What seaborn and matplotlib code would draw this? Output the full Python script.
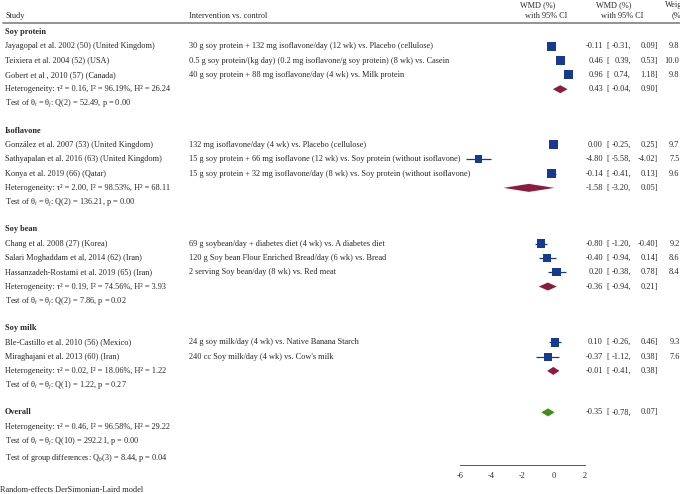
import matplotlib
matplotlib.use("Agg")
import matplotlib.pyplot as plt
import seaborn as sns
import pandas as pd

# ---- data ----
groups = ["Soy protein", "Isoflavone", "Soy bean", "Soy milk"]

studies = [
    ["Jayagopal et al. 2002 (50) (United Kingdom)",
     "Teixiera et al. 2004 (52) (USA)",
     "Gobert et al , 2010 (57) (Canada)"],
    ["González et al. 2007 (53) (United Kingdom)",
     "Sathyapalan et al. 2016 (63) (United Kingdom)",
     "Konya et al. 2019 (66) (Qatar)"],
    ["Chang et al. 2008 (27) (Korea)",
     "Salari Moghaddam et al, 2014 (62) (Iran)",
     "Hassanzadeh-Rostami et al. 2019 (65) (Iran)"],
    ["Ble-Castillo et al. 2010 (56) (Mexico)",
     "Miraghajani et al. 2013 (60) (Iran)"],
]

interventions = [
    ["30 g soy protein + 132 mg isoflavone/day (12 wk) vs. Placebo (cellulose)",
     "0.5 g soy protein/(kg day) (0.2 mg isoflavone/g soy protein) (8 wk) vs. Casein",
     "40 g soy protein + 88 mg isoflavone/day (4 wk) vs. Milk protein"],
    ["132 mg isoflavone/day (4 wk) vs. Placebo (cellulose)",
     "15 g soy protein + 66 mg isoflavone (12 wk) vs. Soy protein (without isoflavone)",
     "15 g soy protein + 32 mg isoflavone/day (8 wk) vs. Soy protein (without isoflavone)"],
    ["69 g soybean/day + diabetes diet (4 wk) vs. A diabetes diet",
     "120 g Soy bean Flour Enriched Bread/day (6 wk) vs. Bread",
     "2 serving Soy bean/day (8 wk) vs. Red meat"],
    ["24 g soy milk/day (4 wk) vs. Native Banana Starch",
     "240 cc Soy milk/day (4 wk) vs. Cow's milk"],
]

est = [[-0.11, 0.46, 0.96], [0.00, -4.80, -0.14], [-0.80, -0.40, 0.20], [0.10, -0.37]]
lo = [[-0.31, 0.39, 0.74], [-0.25, -5.58, -0.41], [-1.20, -0.94, -0.38], [-0.26, -1.12]]
hi = [[0.09, 0.53, 1.18], [0.25, -4.02, 0.13], [-0.40, 0.14, 0.78], [0.46, 0.38]]
weights = [[9.8, 10.0, 9.8], [9.7, 7.5, 9.6], [9.2, 8.6, 8.4], [9.3, 7.6]]

sub_est = [0.43, -1.58, -0.36, -0.01]
sub_lo = [-0.04, -3.20, -0.94, -0.41]
sub_hi = [0.90, 0.05, 0.21, 0.38]
sub_het = [(0.16, 96.19, 26.24), (2.00, 98.53, 68.11), (0.19, 74.56, 3.93), (0.02, 18.06, 1.22)]
sub_q = [(2, 52.49, 0.00), (2, 136.21, 0.00), (2, 7.86, 0.02), (1, 1.22, 0.27)]

overall = (-0.35, -0.78, 0.07)
overall_het = (0.46, 96.58, 29.22)
overall_q = (10, 292.21, 0.00)
group_diff = (3, 8.44, 0.04)

xticks = [-6, -4, -2, 0, 2]

# ---- style ----
sns.set_style("white")
plt.rcParams["font.family"] = ["Liberation Serif", "DejaVu Serif"]
plt.rcParams["mathtext.fontset"] = "custom"
plt.rcParams["mathtext.rm"] = "Liberation Serif"
plt.rcParams["mathtext.it"] = "Liberation Serif:italic"

blue = "#163a91"
maroon = "#8c1b3e"
green = "#3f8e1c"
fs = 5.95

W, H = 680, 494
fig = plt.figure(figsize=(W / 100, H / 100), dpi=100)
ax = fig.add_axes([0, 0, 1, 1])

# row layout (row units; one row ~14.3 px)
r = 0.0
study_rows, het_rows, q_rows, head_rows = [], [], [], []
for g in range(len(groups)):
    head_rows.append(r)
    r += 1
    sr = []
    for _ in studies[g]:
        sr.append(r)
        r += 1
    study_rows.append(sr)
    het_rows.append(r)
    q_rows.append(r + 1)
    r += 2.9
overall_row = r
overall_het_row = r + 1
overall_q_row = r + 2
group_row = r + 3.2
axis_row = r + 3.7
note_row = r + 5.4

df = pd.DataFrame({
    "row": [y for g in study_rows for y in g],
    "est": [v for g in est for v in g],
    "lo": [v for g in lo for v in g],
    "hi": [v for g in hi for v in g],
    "weight": [v for g in weights for v in g],
})

# confidence intervals and study squares
ax.hlines(df["row"], df["lo"], df["hi"], color=blue, lw=0.9, zorder=2)
sns.scatterplot(data=df, x="est", y="row", size="weight", sizes=(32.4, 43.2),
                size_norm=(7.5, 10.0), marker="s", color=blue, linewidth=0,
                legend=False, ax=ax, zorder=3)

# diamonds
h = 0.28
for g in range(len(groups)):
    y = het_rows[g]
    ax.fill([sub_lo[g], sub_est[g], sub_hi[g], sub_est[g]], [y, y - h, y, y + h],
            color=maroon, lw=0, zorder=3)
oe, ol, oh = overall
ax.fill([ol, oe, oh, oe], [overall_row, overall_row - h, overall_row, overall_row + h],
        color=green, lw=0, zorder=3)

# scales: 0 at 553.5 px, 15.625 px per unit; rows: 32 px + 14.3 px each
x0, ppu = 553.5, 15.625
ax.set_xlim(-x0 / ppu, (W - x0) / ppu)
ax.set_ylim((H - 32) / 14.3, -32 / 14.3)
ax.set_xlabel("")
ax.set_ylabel("")

for s in ["top", "right", "left"]:
    ax.spines[s].set_visible(False)
ax.spines["bottom"].set_position(("data", axis_row))
ax.spines["bottom"].set_bounds(xticks[0], xticks[-1])
ax.spines["bottom"].set_color("#555555")
ax.spines["bottom"].set_linewidth(0.7)
ax.set_xticks(xticks)
ax.set_xticklabels([str(t) for t in xticks])
ax.set_yticks([])
ax.tick_params(axis="x", direction="out", length=2.5, width=0.6, color="#555555",
               labelsize=fs, pad=2)
ax.patch.set_alpha(0)

T = ax.get_yaxis_transform()


def px(x):
    return x / W


def txt(x, y, s, **kw):
    kw.setdefault("fontsize", fs)
    kw.setdefault("va", "center")
    ax.text(px(x), y, s, transform=T, **kw)


def effect(y, e, l, u, w=None):
    txt(603, y, f"{e:.2f}", ha="right")
    txt(606, y, "[", ha="left")
    txt(631, y, f"{l:.2f},", ha="right")
    txt(658, y, f"{u:.2f}]", ha="right")
    if w is not None:
        txt(679.5, y, f"{w:.1f}", ha="right")


def het_text(t2, i2, h2):
    return f"Heterogeneity: τ² = {t2:.2f}, I² = {i2:.2f}%, H² = {h2:.2f}"


def q_text(dfq, q, p):
    return rf"Test of θ$_i$ = θ$_j$: Q({dfq}) = {q:.2f}, p = {p:.2f}"


# header
hy1, hy2 = -1.9, -1.15
txt(5, hy2, "Study")
txt(189, hy2, "Intervention vs. control")
txt(538, hy1, "WMD (%)", ha="center")
txt(546, hy2, "with 95% CI", ha="center")
txt(614, hy1, "WMD (%)", ha="center")
txt(622, hy2, "with 95% CI", ha="center")
txt(665, hy1, "Weight", ha="left")
txt(672, hy2, "(%)", ha="left")
ax.plot([px(3), px(W)], [-0.63, -0.63], transform=T, color="#8a8a8a", lw=1.3,
        clip_on=False)

for g in range(len(groups)):
    txt(5, head_rows[g], groups[g], fontweight="bold")
    for k, y in enumerate(study_rows[g]):
        txt(5, y, studies[g][k])
        txt(189, y, interventions[g][k])
        effect(y, est[g][k], lo[g][k], hi[g][k], weights[g][k])
    txt(5, het_rows[g], het_text(*sub_het[g]))
    effect(het_rows[g], sub_est[g], sub_lo[g], sub_hi[g])
    txt(5, q_rows[g], q_text(*sub_q[g]))

txt(5, overall_row, "Overall", fontweight="bold")
effect(overall_row, *overall)
txt(5, overall_het_row, het_text(*overall_het))
txt(5, overall_q_row, q_text(*overall_q))
gd = group_diff
txt(5, group_row, rf"Test of group differences: Q$_b$({gd[0]}) = {gd[1]:.2f}, p = {gd[2]:.2f}")
txt(0, note_row, "Random-effects DerSimonian-Laird model")

fig.savefig("out.png", dpi=100)
